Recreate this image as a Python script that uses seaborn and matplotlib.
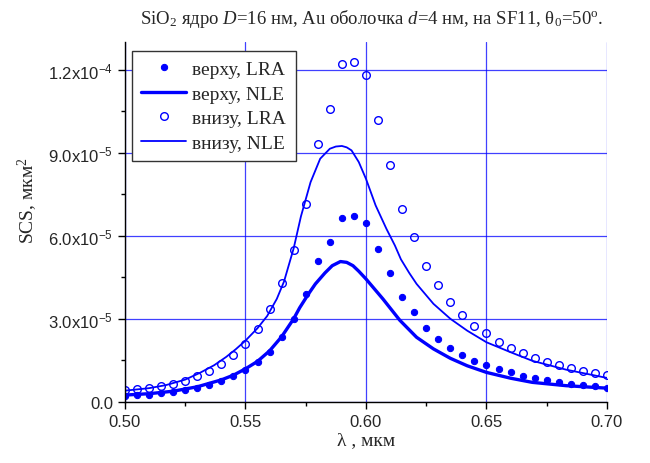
import seaborn as sns
import matplotlib
matplotlib.use("Agg")
import matplotlib.pyplot as plt
from matplotlib.ticker import MultipleLocator

# LRA points (step 0.005 um), SCS in units of 1e-5 um^2
lam_pts = [0.500, 0.505, 0.510, 0.515, 0.520, 0.525, 0.530, 0.535, 0.540, 0.545,
           0.550, 0.555, 0.560, 0.565, 0.570, 0.575, 0.580, 0.585, 0.590, 0.595,
           0.600, 0.605, 0.610, 0.615, 0.620, 0.625, 0.630, 0.635, 0.640, 0.645,
           0.650, 0.655, 0.660, 0.665, 0.670, 0.675, 0.680, 0.685, 0.690, 0.695,
           0.700]

top_lra = [0.22, 0.23, 0.26, 0.30, 0.35, 0.42, 0.50, 0.62, 0.75, 0.93,
           1.16, 1.43, 1.81, 2.33, 2.99, 3.89, 5.08, 5.78, 6.63, 6.70,
           6.46, 5.54, 4.66, 3.80, 3.24, 2.67, 2.28, 1.96, 1.70, 1.48,
           1.33, 1.17, 1.06, 0.94, 0.87, 0.79, 0.71, 0.65, 0.60, 0.56,
           0.51]

bot_lra = [0.42, 0.45, 0.49, 0.57, 0.64, 0.75, 0.93, 1.12, 1.37, 1.70,
           2.09, 2.63, 3.35, 4.29, 5.49, 7.16, 9.33, 10.6, 12.2, 12.3,
           11.8, 10.2, 8.55, 6.97, 5.94, 4.91, 4.23, 3.60, 3.14, 2.75,
           2.48, 2.17, 1.96, 1.75, 1.59, 1.45, 1.33, 1.21, 1.11, 1.03,
           0.97]

# NLE curves
lam_top_nle = [0.500, 0.510, 0.520, 0.530, 0.540, 0.545, 0.550, 0.555, 0.560, 0.565,
               0.570, 0.5725, 0.576, 0.579, 0.583, 0.586, 0.5894, 0.592, 0.5946, 0.597,
               0.600, 0.607, 0.614, 0.621, 0.628, 0.635, 0.642, 0.650, 0.660, 0.669,
               0.683, 0.700]
top_nle = [0.24, 0.29, 0.38, 0.54, 0.79, 0.96, 1.19, 1.46, 1.84, 2.35,
           3.00, 3.40, 3.88, 4.26, 4.66, 4.92, 5.07, 5.04, 4.92, 4.72,
           4.44, 3.72, 2.95, 2.33, 1.91, 1.57, 1.30, 1.06, 0.85, 0.70,
           0.58, 0.49]

lam_bot_nle = [0.500, 0.510, 0.517, 0.525, 0.531, 0.537, 0.542, 0.546, 0.550, 0.555,
               0.559, 0.563, 0.566, 0.570, 0.573, 0.577, 0.581, 0.585, 0.5875, 0.590,
               0.592, 0.594, 0.597, 0.600, 0.604, 0.6085, 0.612, 0.6145, 0.618, 0.621,
               0.628, 0.635, 0.642, 0.650, 0.660, 0.669, 0.683, 0.700]
bot_nle = [0.40, 0.49, 0.60, 0.80, 1.04, 1.32, 1.62, 1.90, 2.21, 2.66,
           3.10, 3.72, 4.35, 5.55, 6.70, 7.94, 8.79, 9.15, 9.23, 9.25,
           9.20, 9.09, 8.67, 8.06, 7.10, 6.25, 5.65, 5.15, 4.65, 4.26,
           3.54, 3.00, 2.57, 2.15, 1.79, 1.48, 1.16, 0.86]

y_ticks = [0, 3e-5, 6e-5, 9e-5, 1.2e-4]
y_labels = ["0.0", "3.0x10$^{-5}$", "6.0x10$^{-5}$", "9.0x10$^{-5}$", "1.2x10$^{-4}$"]
x_ticks = [0.50, 0.55, 0.60, 0.65, 0.70]
x_labels = ["0.50", "0.55", "0.60", "0.65", "0.70"]

sns.set_theme(style="ticks")
plt.rcParams["font.family"] = ["Liberation Serif", "DejaVu Serif"]
plt.rcParams["mathtext.fontset"] = "custom"
plt.rcParams["mathtext.rm"] = "Liberation Serif"
plt.rcParams["mathtext.it"] = "Liberation Serif:italic"
plt.rcParams["mathtext.default"] = "regular"

blue = "#0000ff"
sc = 1e-5

fig = plt.figure(figsize=(6.5, 4.64), dpi=100)
ax = fig.add_axes([0.1923, 0.1321, 0.7415, 0.7746])

ax.grid(True, which="major", color=blue, linewidth=0.9, alpha=0.75)
ax.set_axisbelow(True)

sns.lineplot(x=lam_pts, y=[v * sc for v in top_lra], ax=ax, linestyle="", marker="o",
             markersize=4.5, markerfacecolor=blue, markeredgecolor=blue, color=blue,
             label="верху, LRA")
sns.lineplot(x=lam_top_nle, y=[v * sc for v in top_nle], ax=ax, color=blue,
             linewidth=2.4, label="верху, NLE")
sns.lineplot(x=lam_pts, y=[v * sc for v in bot_lra], ax=ax, linestyle="", marker="o",
             markersize=5.5, markerfacecolor="none", markeredgecolor=blue,
             markeredgewidth=1.0, color=blue, label="внизу, LRA")
sns.lineplot(x=lam_bot_nle, y=[v * sc for v in bot_nle], ax=ax, color=blue,
             linewidth=1.3, label="внизу, NLE")

ax.set_xlim(0.5, 0.7)
ax.set_ylim(0, 1.3e-4)
ax.set_xticks(x_ticks, x_labels, family="Liberation Sans", fontsize=12)
ax.set_yticks(y_ticks, y_labels, family="Liberation Sans", fontsize=12)
ax.xaxis.set_minor_locator(MultipleLocator(0.025))
ax.yaxis.set_minor_locator(MultipleLocator(1.5e-5))
ax.tick_params(which="major", direction="out", length=5, width=1, color="black")
ax.tick_params(which="minor", direction="out", length=3, width=1, color="black")
sns.despine(ax=ax)
for s in ["left", "bottom"]:
    ax.spines[s].set_color("black")
    ax.spines[s].set_linewidth(1.0)
ax.set_xlabel("")
ax.set_ylabel("")

leg = ax.legend(loc="upper left", bbox_to_anchor=(0.014, 0.977), borderaxespad=0,
                fontsize=14, frameon=True, fancybox=False, framealpha=1,
                edgecolor="#333333", handlelength=2.3, borderpad=0.5,
                labelspacing=0.36, handletextpad=0.3)
leg.get_frame().set_linewidth(1.0)

fig.text(0.572, 0.959, "SiO$_2$ ядро $\\mathit{D}$=16 нм, Au оболочка $\\mathit{d}$=4 нм, на SF11, θ$_0$=50$^o$.",
         ha="center", va="center", fontsize=13.5)
fig.text(0.043, 0.567, "SCS, мкм$^2$", rotation=90, ha="center", va="center", fontsize=14)
fig.text(0.563, 0.05, "λ , мкм", ha="center", va="center", fontsize=14)

fig.savefig("out.png", dpi=100)
